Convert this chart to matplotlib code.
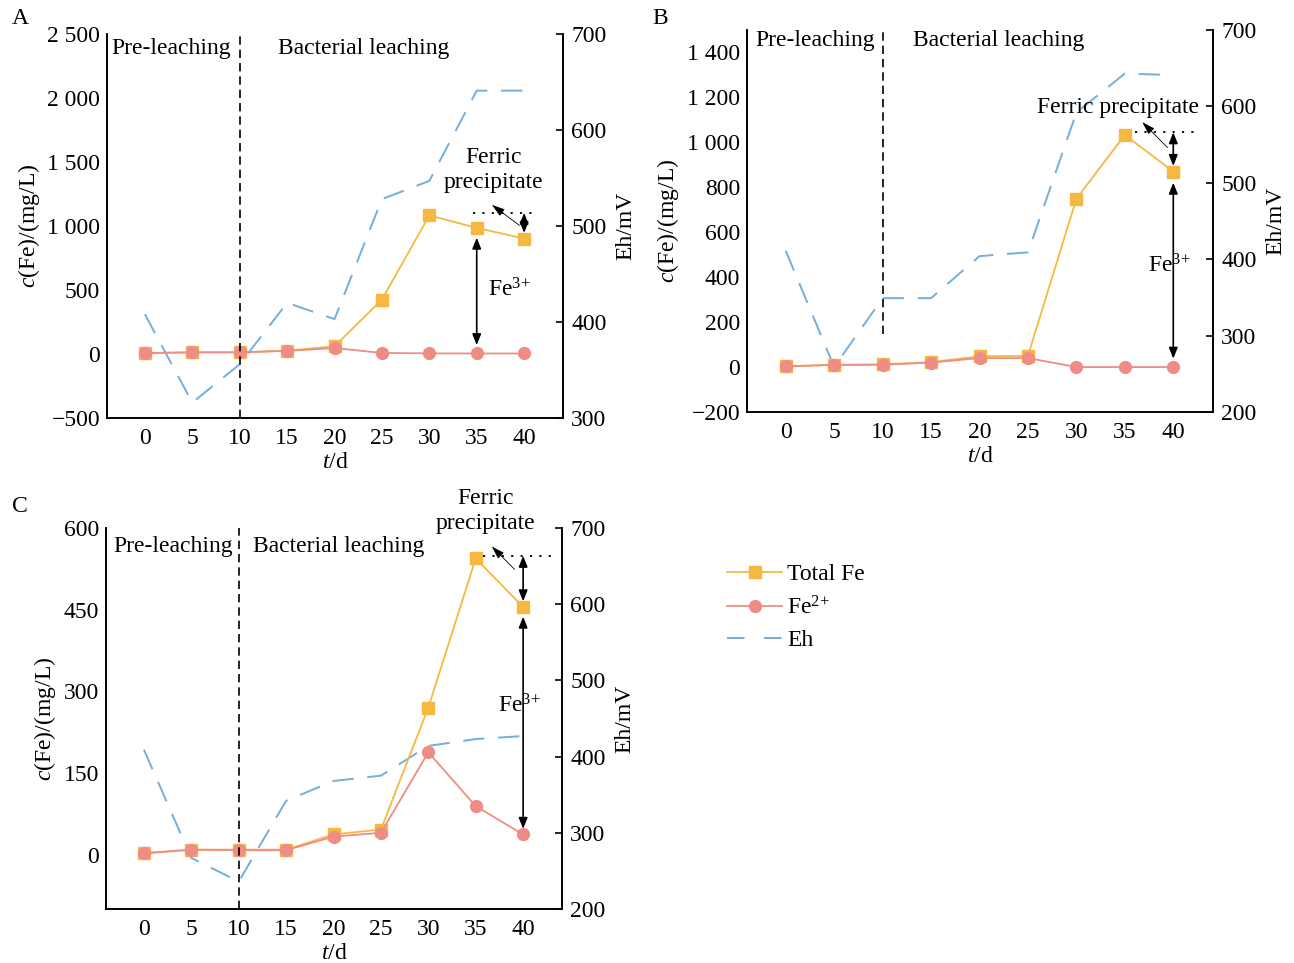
import matplotlib
matplotlib.use("Agg")
import matplotlib.pyplot as plt
from matplotlib.lines import Line2D

plt.rcParams.update({
    "font.family": ["Liberation Serif", "DejaVu Serif"],
    "font.size": 17,
    "mathtext.fontset": "custom",
    "mathtext.rm": "Liberation Serif",
    "mathtext.it": "Liberation Serif:italic",
    "axes.linewidth": 1.2,
})

# ---- data ----
days = [0, 5, 10, 15, 20, 25, 30, 35, 40]

a_total = [5, 13, 13, 26, 60, 425, 1083, 985, 902]
a_fe2 = [8, 13, 13, 24, 47, 8, 5, 4, 4]
a_eh = [408, 316, 356, 420, 403, 528, 547, 641, 641]

b_total = [3, 10, 12, 22, 48, 50, 749, 1033, 870]
b_fe2 = [3, 10, 10, 20, 40, 40, 0, 0, 0]
b_eh = [411, 259, 349, 349, 404, 409, 592, 643, 641]

c_total = [3, 9, 9, 9, 37, 46, 270, 544, 455]
c_fe2 = [2, 9, 8, 8, 33, 40, 188, 89, 37]
c_eh = [409, 267, 236, 342, 368, 375, 414, 423, 427]

a_yticks = [-500, 0, 500, 1000, 1500, 2000, 2500]
a_ylabels = ["\u2212500", "0", "500", "1 000", "1 500", "2 000", "2 500"]
b_yticks = [-200, 0, 200, 400, 600, 800, 1000, 1200, 1400]
b_ylabels = ["\u2212200", "0", "200", "400", "600", "800", "1 000", "1 200", "1 400"]
c_yticks = [0, 150, 300, 450, 600]
c_ylabels = ["0", "150", "300", "450", "600"]
a_ehticks = [300, 400, 500, 600, 700]
b_ehticks = [200, 300, 400, 500, 600, 700]
c_ehticks = [200, 300, 400, 500, 600, 700]

C_TOT = "#F5B942"
C_FE2 = "#EE8C85"
C_EH = "#74AEDD"
FE3 = "Fe$^{3\\!+}$"
FE2 = "Fe$^{2\\!+}$"

W, H = 1294, 963


def px_axes(fig, l, r, t, b):
    return fig.add_axes([l / W, 1 - b / H, (r - l) / W, (b - t) / H])


def panel(ax, total, fe2, eh, ylim, yt, ylab, ehlim, eht, vline_from=None):
    tw = ax.twinx()
    ax.set_zorder(tw.get_zorder() + 1)
    ax.patch.set_visible(False)

    tw.plot(days, eh, color=C_EH, lw=1.4, dashes=(11, 7))
    ax.plot(days, total, color=C_TOT, lw=1.3, marker="s", ms=8, mec=C_TOT)
    ax.plot(days, fe2, color=C_FE2, lw=1.3, marker="o", ms=8.5, mec=C_FE2)

    ax.set_xlim(-4, 44.1)
    ax.set_ylim(*ylim)
    ax.set_xticks(days)
    ax.set_yticks(yt)
    ax.set_yticklabels(ylab)
    tw.set_ylim(*ehlim)
    tw.set_yticks(eht)
    ax.spines["top"].set_visible(False)
    tw.spines["top"].set_visible(False)
    ax.tick_params(axis="both", length=0)
    ax.tick_params(axis="y", pad=5)
    ax.tick_params(axis="x", pad=7)
    tw.tick_params(axis="y", direction="in", length=5, width=1.2, pad=6)

    lo = ylim[0] if vline_from is None else vline_from
    ax.plot([10, 10], [lo, ylim[1]], color="black", lw=1.2, dashes=(5, 3))

    ax.set_xlabel("$\\mathit{t}$/d", labelpad=2)
    ax.set_ylabel("$\\mathit{c}$(Fe)/(mg/L)", labelpad=4)
    tw.set_ylabel("Eh/mV", labelpad=6)
    return tw


def dbl(ax, x, y0, y1, sa=0, sb=0):
    ax.annotate("", xy=(x, y1), xytext=(x, y0),
                arrowprops=dict(arrowstyle="<|-|>,head_length=0.5,head_width=0.2",
                                color="black", lw=1.2, shrinkA=sa, shrinkB=sb,
                                mutation_scale=13))


def pointer(ax, start, end):
    ax.annotate("", xy=end, xytext=start,
                arrowprops=dict(arrowstyle="-|>,head_length=0.8,head_width=0.25",
                                color="black", lw=0.6, shrinkA=0, shrinkB=0,
                                mutation_scale=10))


def dotted(ax, x0, x1, y):
    ax.plot([x0, x1], [y, y], color="black", lw=1.3, dashes=(1.2, 4))


fig = plt.figure(figsize=(W / 100, H / 100), dpi=100)

# ---- A ----
axA = px_axes(fig, 107, 563, 34, 418)
panel(axA, a_total, a_fe2, a_eh, (-500, 2500), a_yticks, a_ylabels,
      (300, 700), a_ehticks)
axA.text(-3.5, 2390, "Pre-leaching", ha="left", va="center")
axA.text(23.1, 2390, "Bacterial leaching", ha="center", va="center")
lvl = max(a_total)
dotted(axA, 34.6, 41.5, lvl + 20)
dbl(axA, 40, lvl + 20, a_total[-1], 0, 4)
dbl(axA, 35, a_total[7], a_fe2[7], 7, 6)
pointer(axA, (39.5, 1005), (36.6, 1165))
axA.text(36.8, 1435, "Ferric\nprecipitate", ha="center", va="center",
         linespacing=1.25)
axA.text(36.2, 500, FE3, ha="left", va="center")

# ---- B ----
axB = px_axes(fig, 747, 1213, 30, 412)
panel(axB, b_total, b_fe2, b_eh, (-200, 1500), b_yticks, b_ylabels,
      (200, 700), b_ehticks, vline_from=145)
axB.text(-3.1, 1452, "Pre-leaching", ha="left", va="center")
axB.text(22.0, 1452, "Bacterial leaching", ha="center", va="center")
lvl = max(b_total)
dotted(axB, 36.0, 42.6, lvl + 12)
dbl(axB, 40, lvl + 12, b_total[-1], 0, 4)
dbl(axB, 40, b_total[-1], b_fe2[-1], 8, 6)
pointer(axB, (39.4, 977), (36.8, 1090))
axB.text(34.3, 1155, "Ferric precipitate", ha="center", va="center")
axB.text(37.4, 450, FE3, ha="left", va="center")

# ---- C ----
axC = px_axes(fig, 106, 562, 528, 909)
panel(axC, c_total, c_fe2, c_eh, (-100, 600), c_yticks, c_ylabels,
      (200, 700), c_ehticks)
axC.text(-3.2, 566, "Pre-leaching", ha="left", va="center")
axC.text(20.5, 566, "Bacterial leaching", ha="center", va="center")
lvl = max(c_total)
dotted(axC, 35.8, 42.9, lvl + 5)
dbl(axC, 40, lvl + 5, c_total[-1], 0, 4)
dbl(axC, 40, c_total[-1], c_fe2[-1], 7, 4)
pointer(axC, (39.1, 524), (36.7, 566))
axC.text(36.0, 632, "Ferric\nprecipitate", ha="center", va="center",
         linespacing=1.25, clip_on=False)
axC.text(37.3, 274, FE3, ha="left", va="center")

# panel letters
fig.text(20 / W, 1 - 18 / H, "A", ha="center", va="center")
fig.text(660 / W, 1 - 18 / H, "B", ha="center", va="center")
fig.text(20 / W, 1 - 507 / H, "C", ha="center", va="center")

# legend
handles = [
    Line2D([], [], color=C_TOT, lw=1.3, marker="s", ms=8),
    Line2D([], [], color=C_FE2, lw=1.3, marker="o", ms=8.5),
    Line2D([], [], color=C_EH, lw=1.4, dashes=(9, 10)),
]
fig.legend(handles, ["Total Fe", FE2, "Eh"], loc="upper left",
           bbox_to_anchor=(715 / W, 1 - 552 / H), frameon=False,
           borderpad=0, handlelength=2.35, handletextpad=0.2,
           labelspacing=0.45)

fig.savefig("out.png", dpi=100)
